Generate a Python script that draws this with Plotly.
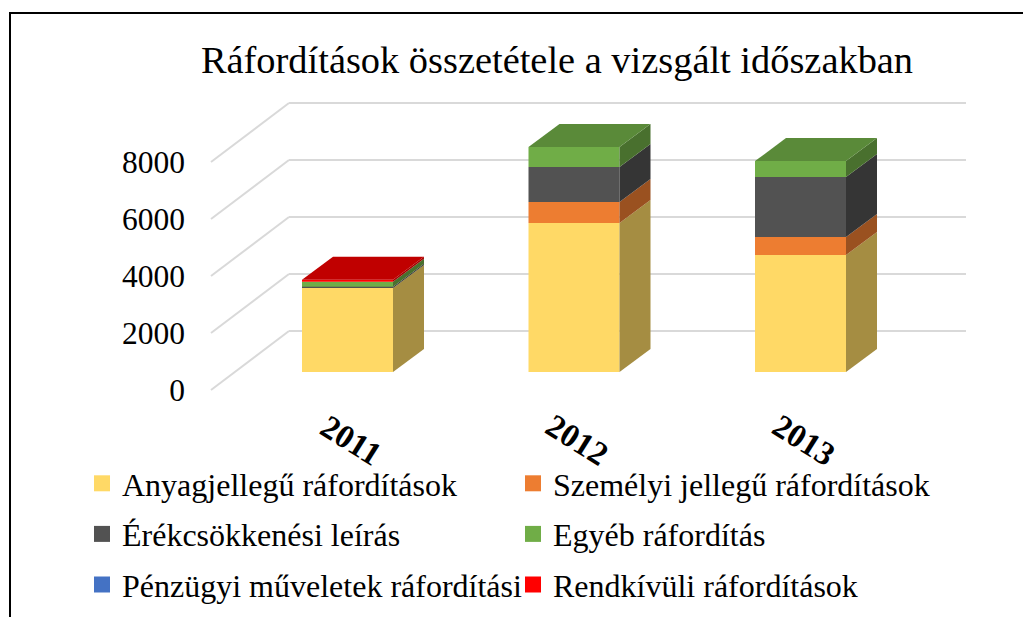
import plotly.graph_objects as go

years = ["2011", "2012", "2013"]
x_pos = [0, 1, 2]

anyag = [2950, 5230, 4105]
szemelyi = [0, 735, 630]
ecs = [45, 1230, 2105]
egyeb = [175, 700, 560]
penzugyi = [0, 0, 0]
rendkivuli = [70, 0, 0]

series = ["Anyagjellegű ráfordítások", "Személyi jellegű ráfordítások", "Érékcsökkenési leírás",
          "Egyéb ráfordítás", "Pénzügyi műveletek ráfordítási", "Rendkívüli ráfordítások"]
values = [anyag, szemelyi, ecs, egyeb, penzugyi, rendkivuli]
front_colors = ["#FFD966", "#ED7D31", "#525252", "#70AD47", "#4472C4", "#FF0000"]
side_colors = ["#A58D42", "#9A5120", "#353535", "#49702E", "#2C4A80", "#A60000"]
top_colors = ["#CCAE52", "#BE6427", "#424242", "#5A8A39", "#365B9D", "#C00000"]

yticks = [0, 2000, 4000, 6000, 8000]

# pixel layout of the plot area
W, H = 1023, 617
L, R, T, B = 186, 1000, 90, 400
PX_X = 226.5  # px per category
PX_Y = 57 / 2000  # px per value
x_range = [(L - 347.5) / PX_X, (R - 347.5) / PX_X]
y_range = [(390 - B) / PX_Y, (390 - T) / PX_Y]

# fake 3d offsets, in axis units
wall_dx, wall_dy = 78 / PX_X, 59 / PX_Y
floor = 18 / PX_Y
bar_w = 91 / PX_X
bar_dx, bar_dy = 31 / PX_X, 23 / PX_Y

fig = go.Figure()

# gridlines with the diagonal running to the back wall, below the bars
grid_x0 = (211 - 347.5) / PX_X
grid_x1 = (966 - 347.5) / PX_X
for v in yticks:
    fig.add_shape(type="line", layer="below", x0=grid_x0, x1=grid_x0 + wall_dx, y0=v, y1=v + wall_dy,
                  line=dict(color="#D9D9D9", width=2))
    fig.add_shape(type="line", layer="below", x0=grid_x0 + wall_dx, x1=grid_x1, y0=v + wall_dy, y1=v + wall_dy,
                  line=dict(color="#D9D9D9", width=2))

# side and top faces
for i, x in enumerate(x_pos):
    xr = x + bar_w / 2
    xl = x - bar_w / 2
    base = floor
    top_color = None
    for s, vals in enumerate(values):
        if vals[i] == 0:
            continue
        top = base + vals[i]
        fig.add_trace(go.Scatter(
            x=[xr, xr + bar_dx, xr + bar_dx, xr],
            y=[base, base + bar_dy, top + bar_dy, top],
            mode="lines",
            fill="toself",
            fillcolor=side_colors[s],
            line=dict(width=0),
            showlegend=False,
            hoverinfo="skip"
        ))
        base = top
        top_color = top_colors[s]
    fig.add_trace(go.Scatter(
        x=[xl, xl + bar_dx, xr + bar_dx, xr],
        y=[base, base + bar_dy, base + bar_dy, base],
        mode="lines",
        fill="toself",
        fillcolor=top_color,
        line=dict(width=0),
        showlegend=False,
        hoverinfo="skip"
    ))

# front faces
bases = [floor, floor, floor]
for s, vals in enumerate(values):
    fig.add_trace(go.Bar(
        x=x_pos,
        y=vals,
        base=list(bases),
        width=bar_w,
        marker=dict(color=front_colors[s], line=dict(width=0)),
        showlegend=False
    ))
    bases = [b + v for b, v in zip(bases, vals)]

# legend entries
for s, name in enumerate(series):
    fig.add_trace(go.Scatter(
        x=[None],
        y=[None],
        mode="markers",
        name=name,
        legendgroup=name,
        marker=dict(symbol="square", size=16, color=front_colors[s])
    ))

# picture frame
def px_x(p):
    return (p - L) / (R - L)

def px_y(p):
    return (B - p) / (B - T)

for x, year in zip(x_pos, years):
    fig.add_annotation(
        x=x,
        xshift=3,
        y=px_y(440),
        yref="paper",
        xanchor="center",
        yanchor="middle",
        text="<b>" + year + "</b>",
        textangle=32,
        showarrow=False,
        font=dict(size=33, color="black")
    )

fig.add_shape(type="line", xref="paper", yref="paper",
              x0=px_x(9), x1=px_x(1023), y0=px_y(13), y1=px_y(13),
              line=dict(color="black", width=2))
fig.add_shape(type="line", xref="paper", yref="paper",
              x0=px_x(10), x1=px_x(10), y0=px_y(13), y1=px_y(617),
              line=dict(color="black", width=2))

fig.update_layout(
    width=W,
    height=H,
    margin=dict(l=L, r=W - R, t=T, b=H - B, autoexpand=False),
    plot_bgcolor="white",
    paper_bgcolor="white",
    barmode="overlay",
    font=dict(family="Liberation Serif", color="black"),
    title=dict(
        text="Ráfordítások összetétele a vizsgált időszakban",
        font=dict(size=38.4),
        x=557 / W,
        xanchor="center",
        y=1 - 60 / H,
        yanchor="middle"
    ),
    xaxis=dict(range=x_range, showgrid=False, zeroline=False, showline=False, showticklabels=False, ticks=""),
    yaxis=dict(
        range=y_range,
        tickvals=yticks,
        showgrid=False,
        zeroline=False,
        showline=False,
        tickfont=dict(size=31.5),
        ticks=""
    ),
    legend=dict(
        orientation="h",
        x=px_x(82),
        y=px_y(456),
        xanchor="left",
        yanchor="top",
        font=dict(size=32),
        entrywidth=386,
        entrywidthmode="pixels",
        tracegroupgap=6,
        bgcolor="rgba(0,0,0,0)"
    )
)

fig.write_html("out.html", config=dict(displayModeBar=False), post_script="document.body.style.margin='0';")
